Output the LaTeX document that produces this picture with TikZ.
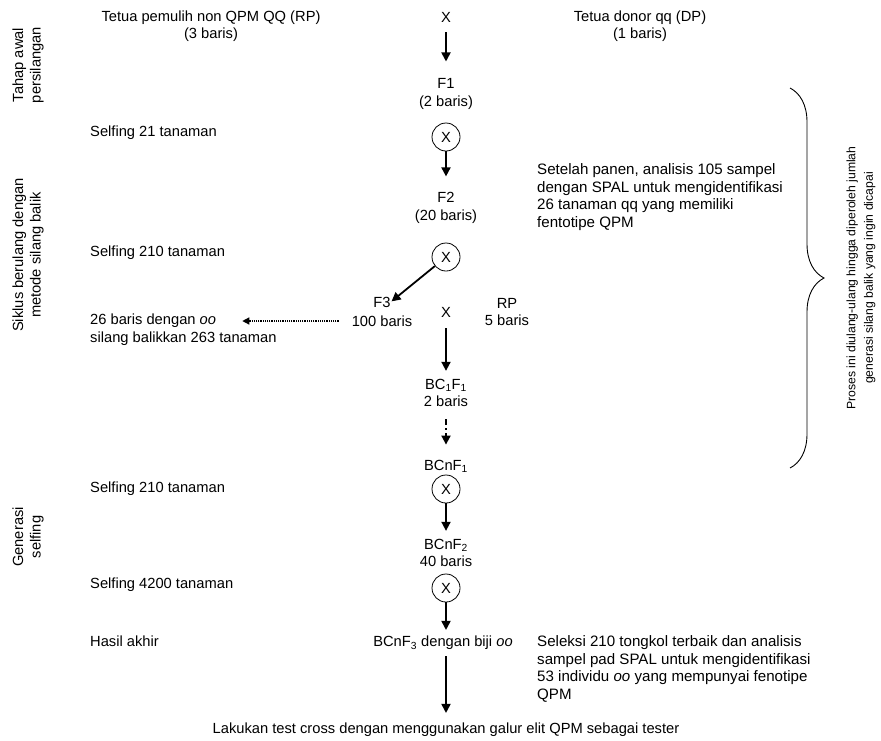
\documentclass[tikz,border=0pt]{standalone}
\usepackage{fontspec}
\setmainfont{Liberation Sans}
\usepackage{tikz}
\usetikzlibrary{shapes, arrows.meta}
\usetikzlibrary{positioning, decorations.pathreplacing}
\newcommand{\flowfont}{\fontsize{14.7}{17.5}\selectfont}
\newcommand{\notefont}{\fontsize{15.1}{17.6}\selectfont}
\newcommand{\bracefont}{\fontsize{12.2}{17.5}\selectfont}
\tikzstyle{txt} = [font = \flowfont, align = center, inner sep = 0]
\tikzstyle{note} = [txt, align = left, anchor = west]
\tikzstyle{side} = [txt, rotate = 90]
\tikzstyle{self} = [
  circle, draw = black, line width = 0.8,
  minimum size = 28, inner sep = 0, font = \flowfont
]
\tikzstyle{arr} = [line width = 1.8, -{Triangle[length = 9pt, width = 9pt]}]
\tikzstyle{dotarr} = [line width = 1.2, densely dotted,
  -{Triangle[length = 7pt, width = 7pt]}]
\tikzstyle{dasharr} = [line width = 1.8,
  dash pattern = on 6pt off 3pt on 2pt off 3pt,
  -{Triangle[length = 9pt, width = 9pt]}]
\tikzstyle{curly} = [decorate, decoration = {brace, amplitude = 34},
  line width = 0.9]

\begin{document}
\begin{tikzpicture}[node distance = 0, x = 1pt, y = 1pt]
      \useasboundingbox (0, 0) rectangle (881, -740);
      % parents
      \node [txt] (cross0) at (446, -17) {X};
      \node [txt] (rp0) at (211, -26) {Tetua pemulih non QPM QQ (RP)\\(3 baris)};
      \node [txt] (dp0) at (640, -26) {Tetua donor qq (DP)\\(1 baris)};
      % F1, F2
      \node [txt, below of = cross0, yshift = -77] (f1) {F1\\(2 baris)};
      \node [self, below of = f1, yshift = -43] (self1) {X};
      \node [txt, below of = self1, yshift = -71] (f2) {F2\\(20 baris)};
      \node [self, below of = f2, yshift = -49] (self2) {X};
      % F3 x RP
      \node [txt, below of = self2, yshift = -55] (cross3) {X};
      \node [txt, left of = cross3, xshift = -64, yshift = 10] (f3) {F3};
      \node [txt, below of = f3, yshift = -19] (f3rows) {100 baris};
      \node [txt, right of = cross3, xshift = 61] (rp) {RP\\5 baris};
      % backcross
      \node [txt, below of = cross3, yshift = -81] (bc1f1)
        {BC\textsubscript{1}F\textsubscript{1}\\2 baris};
      \node [txt, below of = bc1f1, yshift = -73] (bcnf1) {BCnF\textsubscript{1}};
      \node [self, below of = bcnf1, yshift = -23] (self3) {X};
      \node [txt, below of = self3, yshift = -64] (bcnf2) {BCnF\textsubscript{2}\\40 baris};
      \node [self, below of = bcnf2, yshift = -35] (self4) {X};
      \node [txt, below of = self4, yshift = -55, xshift = -3] (bcnf3)
        {BCnF\textsubscript{3} dengan biji \textit{oo}};
      \node [txt, below of = self4, yshift = -142] (test)
        {Lakukan test cross dengan menggunakan galur elit QPM sebagai tester};
      % left column
      \node [note] (selfing1) at (90, -133) {Selfing 21 tanaman};
      \node [note] (selfing2) at (90, -253) {Selfing 210 tanaman};
      \node [note] (oo1) at (90, -321) {26 baris dengan \textit{oo}};
      \node [note] (oo2) at (90, -339) {silang balikkan 263 tanaman};
      \node [note] (selfing3) at (90, -489) {Selfing 210 tanaman};
      \node [note] (selfing4) at (90, -585) {Selfing 4200 tanaman};
      \node [note] (hasil) at (90, -641) {Hasil akhir};
      % stages
      \node [side] (tahap) at (28, -65) {Tahap awal\\persilangan};
      \node [side] (siklus) at (28, -255) {Siklus berulang dengan\\metode silang balik};
      \node [side] (generasi) at (28, -537) {Generasi\\selfing};
      % right column
      \node [note, font = \notefont] (panen) at (537, -197) {Setelah panen, analisis 105 sampel\\dengan SPAL untuk mengidentifikasi\\26 tanaman qq yang memiliki\\fentotipe QPM};
      \node [note, font = \notefont] (seleksi) at (537, -669) {Seleksi 210 tongkol terbaik dan analisis\\sampel pad SPAL untuk mengidentifikasi\\53 individu \textit{oo} yang mempunyai fenotipe\\QPM};
      \coordinate (brace-top) at (790, -88);
      \coordinate (brace-bottom) at (790, -468);
      \node [side, font = \bracefont] (proses) at (861, -278) {Proses ini diulang-ulang hingga diperoleh jumlah\\generasi silang balik yang ingin dicapai};

      \draw [arr, shorten < = 10, shorten > = 17] (cross0) -- (f1);
      \draw [arr, shorten > = 16] (self1) -- (f2);
      \draw [arr, shorten > = 1] (self2) -- (f3.east);
      \draw [dotarr, shorten < = 13, shorten > = 26] (f3rows.west) -- (f3rows.west -| oo1.east);
      \draw [arr, shorten < = 11, shorten > = 8] (cross3) -- (bc1f1);
      \draw [dasharr, shorten < = 12, shorten > = 15] (bc1f1) -- (bcnf1);
      \draw [arr, shorten > = 8] (self3) -- (bcnf2);
      \draw [arr, shorten > = 6] (self4) -- (self4 |- bcnf3.north);
      \draw [arr, shorten < = 6, shorten > = 10] (bcnf3.south -| self4) -- (test.north);
      \draw [curly] (brace-top) -- (brace-bottom);
    \end{tikzpicture}
\end{document}
